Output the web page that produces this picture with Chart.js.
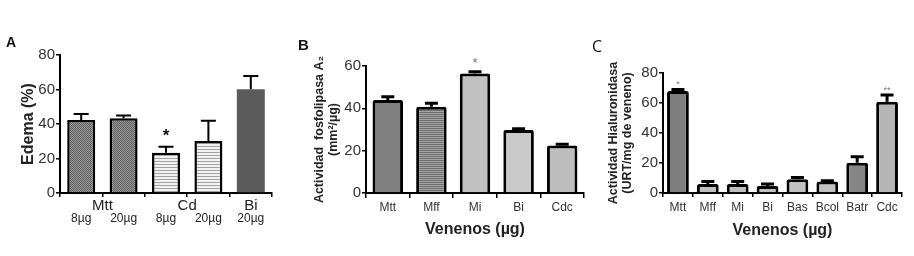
<!DOCTYPE html>
<html>
<head>
<meta charset="utf-8">
<script src="https://cdn.jsdelivr.net/npm/chart.js@4/dist/chart.umd.min.js"></script>
<style>
  html, body { margin:0; padding:0; background:#fff; }
  #wrap { position:relative; width:914px; height:256px; overflow:hidden; background:#fff; }
  canvas { position:absolute; top:0; }
  .lbl { position:absolute; font-family:"Liberation Sans", Arial, sans-serif; color:#111; }
</style>
</head>
<body>
<div id="wrap">
  <canvas id="cA" width="290" height="256" style="left:0px;width:290px;height:256px"></canvas>
  <canvas id="cB" width="300" height="256" style="left:290px;width:300px;height:256px"></canvas>
  <canvas id="cC" width="324" height="256" style="left:590px;width:324px;height:256px"></canvas>
  <div class="lbl" style="left:6px;top:34px;font-size:14px;font-weight:bold;">A</div>
  <div class="lbl" style="left:298px;top:36px;font-size:15px;font-weight:bold;">B</div>
  <div class="lbl" style="left:592px;top:35px;font-size:16px;font-family:'Open Sans',sans-serif;">C</div>
</div>
<script>
// ---------- Panel A data ----------
const catsA   = ['8µg', '20µg', '8µg', '20µg', '20µg'];
const valsA   = [42.3, 43.3, 23.4, 30.1, 60.1];
const errsA   = [3.5, 1.7, 3.4, 11.8, 7.7];
const sigA    = ['', '', '*', '', ''];
const groupNamesA = ['Mtt', 'Cd', 'Bi'];
const groupFirstA = [0, 2, 4];
const groupLastA  = [1, 3, 4];
const ticksA  = [0, 20, 40, 60, 80];

// ---------- Panel B data ----------
const catsB = ['Mtt', 'Mff', 'Mi', 'Bi', 'Cdc'];
const valsB = [43.9, 40.8, 56.5, 29.8, 22.4];
const errsB = [1.6, 1.6, 0.8, 0.6, 0.6];
const sigB  = ['', '', '*', '', ''];
const ticksB = [0, 20, 40, 60];

// ---------- Panel C data ----------
const catsC = ['Mtt', 'Mff', 'Mi', 'Bi', 'Bas', 'Bcol', 'Batr', 'Cdc'];
const valsC = [68.0, 6.0, 6.0, 4.7, 9.1, 7.6, 20.2, 60.9];
const errsC = [1.0, 1.6, 1.6, 1.3, 1.3, 0.5, 4.0, 4.4];
const sigC  = ['*', '', '', '', '', '', '', '**'];
const ticksC = [0, 20, 40, 60, 80];

const FONT = "'Liberation Sans', Arial, sans-serif";

function pattern(w, h, draw) {
  const c = document.createElement('canvas');
  c.width = w; c.height = h;
  const g = c.getContext('2d');
  draw(g);
  return g.createPattern(c, 'repeat');
}
const patCross = pattern(2, 2, g => {
  g.fillStyle = '#9c9c9c'; g.fillRect(0, 0, 2, 2);
  g.fillStyle = '#5c5c5c'; g.fillRect(0, 0, 1, 1); g.fillRect(1, 1, 1, 1);
});
const patStripe = pattern(1, 3, g => {
  g.fillStyle = '#f2f2f2'; g.fillRect(0, 0, 1, 3);
  g.fillStyle = '#a2a2a2'; g.fillRect(0, 2, 1, 1);
});
const patStripeDark = pattern(1, 2, g => {
  g.fillStyle = '#6c6c6c'; g.fillRect(0, 0, 1, 2);
  g.fillStyle = '#a6a6a6'; g.fillRect(0, 1, 1, 1);
});

// error bars (upper only) + significance marks
const errorBars = {
  id: 'errorBars',
  afterDatasetsDraw(chart, args, o) {
    const ds = chart.data.datasets[0];
    const meta = chart.getDatasetMeta(0);
    const y = chart.scales.y;
    const ctx = chart.ctx;
    ctx.save();
    meta.data.forEach((bar, i) => {
      const v = ds.data[i], e = ds.errs[i];
      const top = y.getPixelForValue(v);
      const et = y.getPixelForValue(v + e);
      ctx.strokeStyle = '#000';
      ctx.lineWidth = o.lw;
      ctx.lineCap = 'butt';
      ctx.beginPath();
      ctx.moveTo(bar.x, top);
      ctx.lineTo(bar.x, et);
      ctx.moveTo(bar.x - o.cap / 2, et);
      ctx.lineTo(bar.x + o.cap / 2, et);
      ctx.stroke();
      const s = ds.sig[i];
      if (s) {
        ctx.fillStyle = o.sigColor;
        ctx.font = o.sigFont;
        ctx.textAlign = 'center';
        ctx.textBaseline = 'middle';
        ctx.fillText(s, bar.x, et - o.sigGap);
      }
    });
    ctx.restore();
  }
};

const groupLabels = {
  id: 'groupLabels',
  afterDraw(chart, args, o) {
    if (!o.names) return;
    const x = chart.scales.x;
    const ctx = chart.ctx;
    ctx.save();
    ctx.fillStyle = '#222';
    ctx.font = '15px ' + FONT;
    ctx.textAlign = 'center';
    ctx.textBaseline = 'middle';
    o.names.forEach((n, i) => {
      const px = (x.getPixelForValue(o.first[i]) + x.getPixelForValue(o.last[i])) / 2;
      ctx.fillText(n, px, o.y);
    });
    ctx.restore();
  }
};

function makeChart(id, cfg) {
  return new Chart(document.getElementById(id), {
    type: 'bar',
    data: {
      labels: cfg.cats,
      datasets: [{
        data: cfg.vals,
        errs: cfg.errs,
        sig: cfg.sig,
        backgroundColor: cfg.colors,
        borderColor: '#000',
        borderWidth: cfg.bw,
        borderRadius: cfg.radius,
        borderSkipped: 'bottom',
        barPercentage: cfg.barPct,
        categoryPercentage: 1
      }]
    },
    options: {
      responsive: false,
      animation: false,
      devicePixelRatio: 1,
      layout: { padding: cfg.padding },
      plugins: {
        legend: { display: false },
        tooltip: { enabled: false },
        errorBars: cfg.err,
        groupLabels: cfg.groups || {}
      },
      scales: {
        x: {
          afterFit: s => { s.height = cfg.xh; },
          grid: { display: true, drawOnChartArea: false, drawTicks: true, tickLength: cfg.xtl, color: '#000', lineWidth: 1.5 },
          border: { display: true, color: '#000', width: 2 },
          ticks: { color: cfg.xColor, font: { family: FONT, size: cfg.xSize }, padding: cfg.xPad, maxRotation: 0, autoSkip: false },
          title: cfg.xTitle ? { display: true, text: cfg.xTitle, color: '#222', font: { family: FONT, size: 16, weight: 'bold' }, padding: { top: 0, bottom: cfg.xTitlePad } } : { display: false }
        },
        y: {
          min: 0, max: cfg.max,
          afterFit: s => { s.width = cfg.yw; },
          afterBuildTicks: s => { s.ticks = cfg.ticks.map(v => ({ value: v })); },
          grid: { display: true, drawOnChartArea: false, drawTicks: true, tickLength: 4, color: '#000', lineWidth: 1.5 },
          border: { display: true, color: '#000', width: 2 },
          ticks: { color: '#333', font: { family: FONT, size: cfg.ySize }, padding: 1 },
          title: { display: true, text: cfg.yTitle, color: '#222', font: { family: FONT, size: cfg.yTitleSize, weight: 'bold', lineHeight: 1.15 }, padding: { top: cfg.yTitlePad, bottom: 0 } }
        }
      }
    },
    plugins: [errorBars, groupLabels]
  });
}

makeChart('cA', {
  cats: catsA, vals: valsA, errs: errsA, sig: sigA,
  colors: [patCross, patCross, patStripe, patStripe, '#5b5b5b'],
  bw: [2.5, 2.5, 2.5, 2.5, 0], radius: 0, barPct: 0.66,
  padding: { left: 0, right: 18, top: 55, bottom: 0 },
  xh: 63, xtl: 4, xColor: '#222', xSize: 12, xPad: 14,
  max: 80, ticks: ticksA, yw: 60, ySize: 15,
  yTitle: 'Edema (%)', yTitleSize: 16, yTitlePad: 19,
  err: { lw: 2, cap: 15, sigColor: '#111', sigFont: 'bold 17px ' + FONT, sigGap: 10 },
  groups: { names: groupNamesA, first: groupFirstA, last: groupLastA, y: 206 }
});

makeChart('cB', {
  cats: catsB, vals: valsB, errs: errsB, sig: sigB,
  colors: ['#808080', patStripeDark, '#c0c0c0', '#c9c9c9', '#bdbdbd'],
  bw: 3, radius: 2, barPct: 0.7,
  padding: { left: 0, right: 6, top: 66, bottom: 0 },
  xh: 63, xtl: 5, xColor: '#333', xSize: 12, xPad: 2,
  xTitle: 'Venenos (µg)', xTitlePad: 17,
  max: 60, ticks: ticksB, yw: 76, ySize: 15,
  yTitle: ['Actividad  fosfolipasa A₂', '(mm²/µg)'], yTitleSize: 12.5, yTitlePad: 22,
  err: { lw: 3, cap: 13, sigColor: '#666', sigFont: '12px ' + FONT, sigGap: 8 }
});

makeChart('cC', {
  cats: catsC, vals: valsC, errs: errsC, sig: sigC,
  colors: ['#7e7e7e', '#c0c0c0', '#c0c0c0', '#c0c0c0', '#c0c0c0', '#c0c0c0', '#868686', '#b5b5b5'],
  bw: 3, radius: 2, barPct: 0.73,
  padding: { left: 0, right: 12, top: 73, bottom: 0 },
  xh: 63, xtl: 4, xColor: '#333', xSize: 12, xPad: 3,
  xTitle: 'Venenos (µg)', xTitlePad: 16,
  max: 80, ticks: ticksC, yw: 73, ySize: 15,
  yTitle: ['Actividad Hialuronidasa', '(URT/mg de veneno)'], yTitleSize: 12.5, yTitlePad: 16,
  err: { lw: 3, cap: 13, sigColor: '#777', sigFont: '9px ' + FONT, sigGap: 5 }
});
</script>
</body>
</html>
